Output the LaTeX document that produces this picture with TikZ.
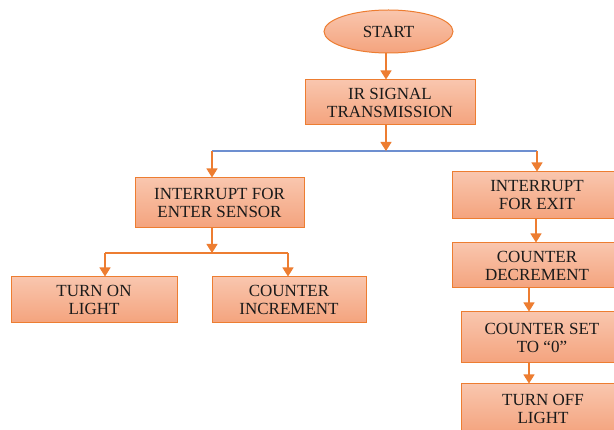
\documentclass[tikz,border=0pt]{standalone}
\usepackage{fontspec}
\setmainfont{Liberation Serif}
\usetikzlibrary{arrows.meta,shapes.geometric}
\definecolor{bord}{HTML}{ED7D31}
\definecolor{ftop}{HTML}{F9C6AE}
\definecolor{fbot}{HTML}{F4A37D}
\definecolor{blu}{HTML}{6D8FD0}
\definecolor{txt}{HTML}{1A1A1A}
\tikzset{
  box/.style={draw=bord, line width=1pt, top color=ftop, bottom color=fbot,
    align=center, text=txt, font=\fontsize{17}{18}\selectfont, inner sep=0pt},
  arr/.style={draw=bord, line width=1.2pt, -{Triangle[width=11pt,length=9pt]}},
  ln/.style={draw=bord, line width=1.2pt},
  bl/.style={draw=blu, line width=1.2pt}
}
\begin{document}
\begin{tikzpicture}[x=1pt,y=-1pt]
\useasboundingbox (0,0) rectangle (614,430);
\clip (0,0) rectangle (614,430);
\fill[white] (0,0) rectangle (614,430);
\node[box, ellipse, minimum width=129pt, minimum height=43pt] (start) at (388.5,31.5) {START};
\node[box, minimum width=170pt, minimum height=45pt] (ir) at (390,102.5) {IR SIGNAL\\TRANSMISSION};
\node[box, minimum width=169pt, minimum height=50pt] (enter) at (219.5,203) {INTERRUPT FOR\\ENTER SENSOR};
\node[box, minimum width=166pt, minimum height=46pt] (light) at (94,300) {TURN ON\\LIGHT};
\node[box, minimum width=154pt, minimum height=46pt] (inc) at (289,300) {COUNTER\\INCREMENT};
\node[box, minimum width=170pt, minimum height=47pt] (exit) at (537,195.5) {INTERRUPT\\FOR EXIT};
\node[box, minimum width=170pt, minimum height=45pt] (dec) at (537,265.5) {COUNTER\\DECREMENT};
\node[box, minimum width=162pt, minimum height=51pt] (set) at (542,337.5) {COUNTER SET\\TO “0”};
\node[box, minimum width=164pt, minimum height=50pt] (off) at (543,409) {TURN OFF\\LIGHT};
\coordinate (j1) at (386,151);
\coordinate (jl) at (212,151);
\coordinate (jr) at (537,151);
\coordinate (j2) at (212,253);
\coordinate (jl2) at (105,253);
\coordinate (jr2) at (288,253);
\draw[arr] (start.south -| j1) -- (ir.north -| j1);
\draw[bl] (jl) -- (jr);
\draw[arr] (ir.south -| j1) -- (j1);
\draw[arr] (jl) -- (enter.north -| jl);
\draw[arr] (jr) -- (exit.north -| jr);
\draw[ln] (jl2) -- (jr2);
\draw[arr] (enter.south -| j2) -- (j2);
\draw[arr] (jl2) -- (light.north -| jl2);
\draw[arr] (jr2) -- (inc.north -| jr2);
\draw[arr] (exit.south -| 536,0) -- (dec.north -| 536,0);
\draw[arr] (dec.south -| 529,0) -- (set.north -| 529,0);
\draw[arr] (set.south -| 529,0) -- (off.north -| 529,0);
\end{tikzpicture}
\end{document}
